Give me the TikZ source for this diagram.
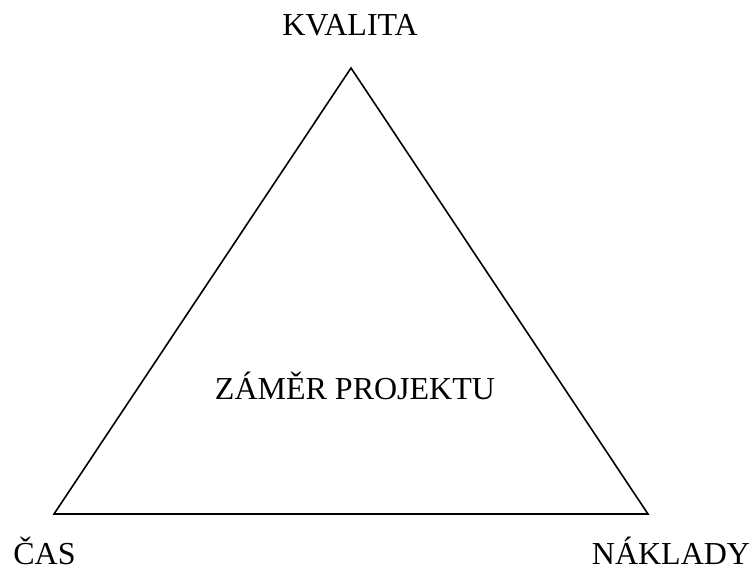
\documentclass[tikz,border=0pt]{standalone}
\usepackage{fontspec}
\setmainfont{Liberation Serif}
\begin{document}
\begin{tikzpicture}[x=1pt,y=-1pt,
  label text/.style={anchor=base,inner sep=0pt,font=\fontsize{32}{38}\selectfont},
  edge line/.style={line width=1.6pt,line join=miter}]
\useasboundingbox (0,0) rectangle (752,572);
% corners of the triangle
\coordinate (top) at (351,68);
\coordinate (left) at (54,514);
\coordinate (right) at (648,514);
\draw[edge line] (top) -- (left) -- (right) -- cycle;
% labels
\node[label text] (kvalita) at (350,36) {KVALITA};
\node[label text] (cas) at (44.5,564) {ČAS};
\node[label text] (naklady) at (671,564) {NÁKLADY};
\node[label text] (zamer) at (355,399) {ZÁMĚR PROJEKTU};
\end{tikzpicture}
\end{document}
